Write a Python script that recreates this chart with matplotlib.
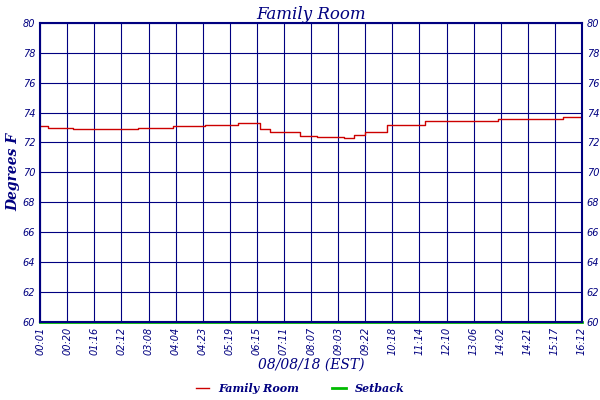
import matplotlib

matplotlib.use("Agg")

import matplotlib.pyplot as plt

TICK_LABELS = ["00:01", "00:20", "01:16", "02:12", "03:08", "04:04", "04:23", "05:19",
               "06:15", "07:11", "08:07", "09:03", "09:22", "10:18", "11:14", "12:10",
               "13:06", "14:02", "14:21", "15:17", "16:12"]
# step start positions (in tick-label units) and readings
STEP_X = [0.0, 0.3, 1.2, 3.6, 4.9, 6.1, 7.3, 8.1, 8.5, 9.6, 10.2, 11.2, 11.6, 12.0, 12.8, 14.2, 16.9, 19.3, 20.0]
FAMILY_ROOM = [73.1, 73.0, 72.9, 73.0, 73.1, 73.2, 73.3, 72.9, 72.7, 72.4, 72.35, 72.3, 72.5, 72.7,
               73.2, 73.45, 73.55, 73.7, 74.2]
SETBACK = [60.0, 60.0]

NAVY = "#000080"
FONT = "DejaVu Serif"

fig = plt.figure(figsize=(6, 4), dpi=100)
ax = fig.add_axes([0.067, 0.195, 0.903, 0.748])

ax.plot(STEP_X, FAMILY_ROOM, color="#cc0000", linewidth=1, drawstyle="steps-post", label="Family Room")
ax.plot([0, 20], SETBACK, color="#00bb00", linewidth=2, label="Setback", clip_on=False)

ax.set_xlim(0, 20)
ax.set_ylim(60, 80)
ax.set_xticks(range(len(TICK_LABELS)))
ax.set_xticklabels(TICK_LABELS, rotation=90, fontsize=7, color=NAVY, fontstyle="italic")
ax.set_yticks(range(60, 81, 2))
ax.tick_params(axis="y", labelsize=7, labelcolor=NAVY, length=0, labelright=True, right=False)
ax.tick_params(axis="x", length=0)
for label in ax.get_yticklabels():
    label.set_fontstyle("italic")
ax.grid(True, color=NAVY, linewidth=0.8)
for side in ax.spines.values():
    side.set_color(NAVY)
    side.set_linewidth(1.5)

ax.set_title("Family Room", fontsize=12, color=NAVY, fontstyle="italic", family=FONT, pad=3)
ax.set_ylabel("Degrees F", fontsize=10, color=NAVY, fontstyle="italic", family=FONT, fontweight="bold", labelpad=2)
ax.set_xlabel("08/08/18 (EST)", fontsize=10, color=NAVY, fontstyle="italic", family=FONT, labelpad=2)

fig.legend(loc="lower center", ncol=2, frameon=False, bbox_to_anchor=(0.5, -0.01),
           prop={"family": FONT, "style": "italic", "weight": "bold", "size": 8},
           labelcolor=NAVY, handlelength=1.2, columnspacing=3)

fig.savefig("out.png", dpi=100)
